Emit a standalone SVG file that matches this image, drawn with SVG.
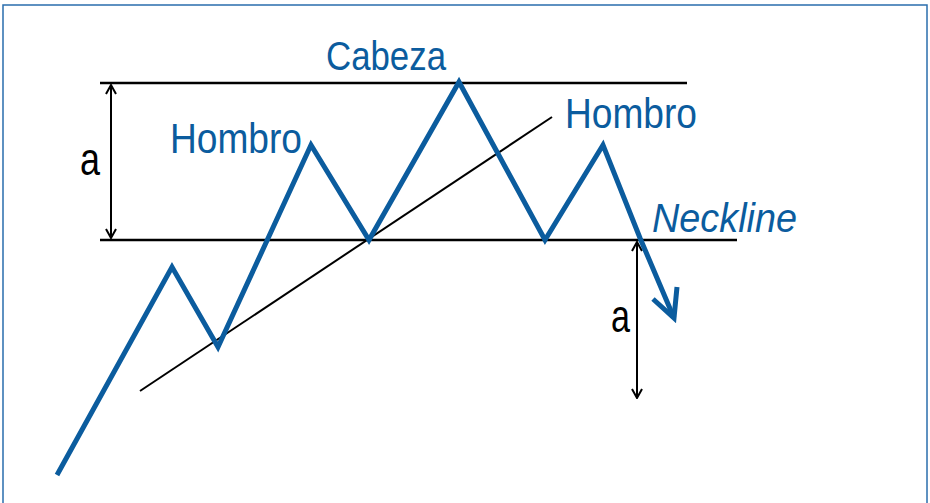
<svg xmlns="http://www.w3.org/2000/svg" width="930" height="503" viewBox="0 0 930 503">
<style>
.blue{fill:#0b5c9e;font-family:"Liberation Sans Narrow","Liberation Sans",Arial,sans-serif;}
.blk{fill:#000;font-family:"Liberation Sans Narrow","Liberation Sans",Arial,sans-serif;}
.ln{stroke:#000;stroke-width:2.5;fill:none;}
.thin{stroke:#000;stroke-width:2;fill:none;}
.price{stroke:#0b5c9e;stroke-width:5;fill:none;stroke-linejoin:miter;}
</style>
<defs>
<marker id="ah" viewBox="0 0 12 12" refX="11" refY="6" markerWidth="12" markerHeight="12" markerUnits="userSpaceOnUse" orient="auto-start-reverse">
<path d="M2,1 L11,6 L2,11" fill="none" stroke="#000" stroke-width="2"/>
</marker>
</defs>
<rect x="3" y="5" width="924" height="503" fill="#fff" stroke="#2a6ead" stroke-width="1.5"/>
<g id="connectors">
<line class="ln" x1="100" y1="83" x2="687" y2="83"/>
<line class="ln" x1="100" y1="240" x2="737" y2="240"/>
<line class="thin" x1="140" y1="391" x2="552" y2="117"/>
<line class="thin" x1="111" y1="85" x2="111" y2="238" marker-start="url(#ah)" marker-end="url(#ah)"/>
<line class="thin" x1="637" y1="242" x2="637" y2="398" marker-start="url(#ah)" marker-end="url(#ah)"/>
<polyline class="price" points="57,475 172,267 218,347 311,145 369,240 459,82 545,240 603,145 640,238 674,318"/>
<polyline class="price" points="653,299 674,318 677,287"/>
</g>
<g id="cabeza"><text class="blue" x="326" y="70" font-size="40" textLength="120" lengthAdjust="spacingAndGlyphs">Cabeza</text></g>
<g id="hombro-left"><text class="blue" x="170" y="153" font-size="43" textLength="132" lengthAdjust="spacingAndGlyphs">Hombro</text></g>
<g id="hombro-right"><text class="blue" x="565" y="128" font-size="43" textLength="132" lengthAdjust="spacingAndGlyphs">Hombro</text></g>
<g id="neckline"><text class="blue" x="652" y="232" font-size="41" font-style="italic" textLength="145" lengthAdjust="spacingAndGlyphs">Neckline</text></g>
<g id="a-left"><text class="blk" x="80" y="175" font-size="46" textLength="20" lengthAdjust="spacingAndGlyphs">a</text></g>
<g id="a-right"><text class="blk" x="611" y="332" font-size="46" textLength="19" lengthAdjust="spacingAndGlyphs">a</text></g>
</svg>
